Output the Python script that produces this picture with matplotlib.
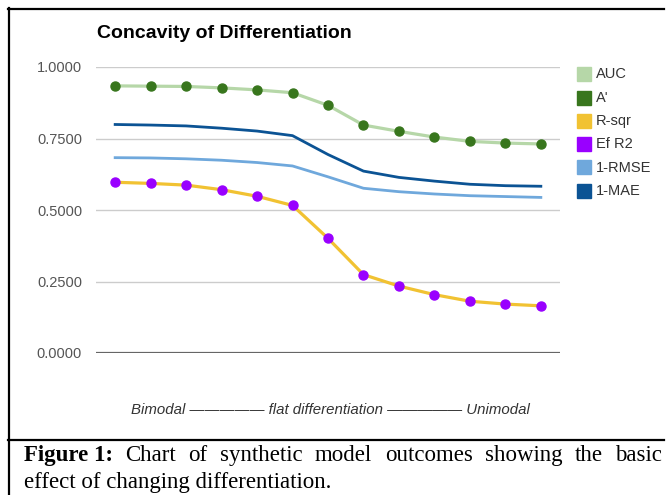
import matplotlib
matplotlib.use("Agg")
from matplotlib import pyplot as plt
from matplotlib.lines import Line2D
from matplotlib.patches import Rectangle

W, H = 666, 495

# series (13 steps from bimodal to unimodal)
auc = [0.934, 0.933, 0.932, 0.927, 0.920, 0.910, 0.866, 0.797, 0.775, 0.755, 0.740, 0.734, 0.731]
a_prime = [0.934, 0.933, 0.932, 0.927, 0.920, 0.910, 0.866, 0.797, 0.775, 0.755, 0.740, 0.734, 0.731]
r_sqr = [0.597, 0.593, 0.587, 0.571, 0.548, 0.516, 0.401, 0.274, 0.234, 0.204, 0.181, 0.171, 0.165]
ef_r2 = [0.597, 0.593, 0.587, 0.571, 0.548, 0.516, 0.401, 0.274, 0.234, 0.204, 0.181, 0.171, 0.165]
one_rmse = [0.683, 0.682, 0.679, 0.674, 0.666, 0.654, 0.616, 0.576, 0.564, 0.556, 0.550, 0.547, 0.544]
one_mae = [0.799, 0.797, 0.794, 0.786, 0.776, 0.760, 0.694, 0.636, 0.614, 0.601, 0.590, 0.585, 0.583]

names = ["AUC", "A'", "R-sqr", "Ef R2", "1-RMSE", "1-MAE"]
colors = ["#b6d7a8", "#38761d", "#f1c232", "#9900ff", "#6fa8dc", "#0b5394"]
yticks = [0.0, 0.25, 0.5, 0.75, 1.0]

title = "Concavity of Differentiation"
xlabel = "Bimodal \u2014\u2014\u2014\u2014\u2014 flat differentiation \u2014\u2014\u2014\u2014\u2014 Unimodal"
caption_bold = "Figure 1:"
caption_line1 = "Chart of synthetic model outcomes showing the basic"
caption_line2 = "effect of changing differentiation."


def fx(x):
    return x / W


def fy(y):
    return 1 - y / H


fig = plt.figure(figsize=(W / 100, H / 100), dpi=100)
plt.rcParams["font.family"] = ["Liberation Sans", "DejaVu Sans"]

ax = fig.add_axes([fx(96), fy(353), fx(560) - fx(96), fy(67) - fy(353)])
x = list(range(len(auc)))

ax.plot(x, auc, color=colors[0], lw=2.3, zorder=3)
ax.plot(x, a_prime, "o", color=colors[1], ms=6.5, zorder=6)
ax.plot(x, r_sqr, color=colors[2], lw=2.3, zorder=4)
ax.plot(x, ef_r2, "o", color=colors[3], ms=6.5, zorder=7)
ax.plot(x, one_rmse, color=colors[4], lw=2.0, zorder=4)
ax.plot(x, one_mae, color=colors[5], lw=2.0, zorder=5)

ax.set_xlim(-0.54, len(auc) - 1 + 0.54)
ax.set_ylim(0, 1)
ax.set_yticks(yticks)
ax.set_yticklabels(["%.4f" % v for v in yticks], fontsize=10.5, color="#555555")
ax.set_xticks([])
ax.tick_params(axis="y", length=0, pad=10)
ax.grid(axis="y", color="#cccccc", lw=1)
ax.axhline(0, color="#666666", lw=1.6, zorder=2)
for s in ax.spines.values():
    s.set_visible(False)
ax.set_facecolor("none")

fig.text(fx(97), fy(33), title, fontsize=14, fontweight="bold", va="center", color="#000000")
fig.text(fx(330), fy(410), xlabel, fontsize=10.8, style="italic", ha="center", va="center", color="#333333")

# legend
for i, (n, c) in enumerate(zip(names, colors)):
    yc = 74.3 + i * 23.3
    fig.add_artist(Rectangle((fx(577), fy(yc + 7)), fx(14), 14 / H, color=c, transform=fig.transFigure))
    fig.text(fx(596), fy(yc), n, fontsize=10.5, va="center", color="#333333")

# frame lines
fig.add_artist(Line2D([fx(8.5), fx(8.5)], [fy(8), fy(495)], color="black", lw=1.6))
fig.add_artist(Line2D([fx(8), fx(664)], [fy(8.5), fy(8.5)], color="black", lw=1.6))
fig.add_artist(Line2D([fx(8), fx(664)], [fy(440), fy(440)], color="black", lw=1.6))

# caption, first line justified between x=24 and x=662
serif = ["Liberation Serif", "DejaVu Serif"]
renderer = fig.canvas.get_renderer()
t0 = fig.text(fx(24), fy(461), caption_bold, fontsize=16.5, fontweight="bold", family=serif, va="baseline")
words = caption_line1.split()
texts = [fig.text(0, fy(461), w, fontsize=16.5, family=serif, va="baseline") for w in words]
w0 = t0.get_window_extent(renderer).width
widths = [t.get_window_extent(renderer).width for t in texts]
gap = (662 - 24 - w0 - sum(widths)) / len(words)
pos = 24 + w0 + gap
for t, w in zip(texts, widths):
    t.set_x(fx(pos))
    pos += w + gap
fig.text(fx(24), fy(488), caption_line2, fontsize=16.5, family=serif, va="baseline")

fig.savefig("out.png", dpi=100)
